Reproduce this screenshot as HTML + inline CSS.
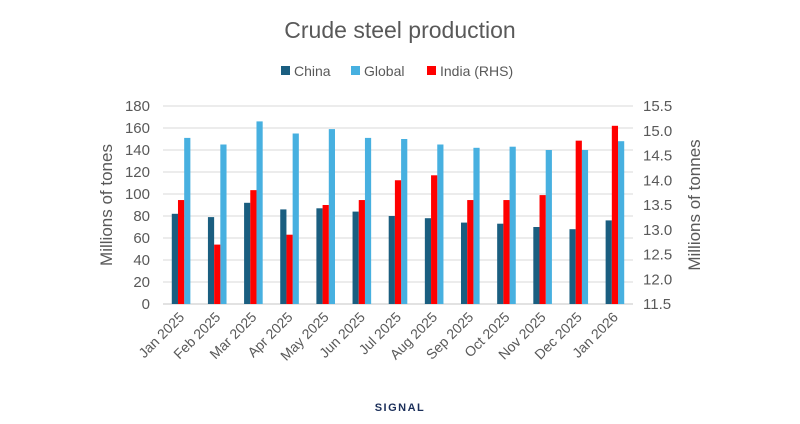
<!DOCTYPE html>
<html><head><meta charset="utf-8"><style>
body{margin:0;background:#fff;width:800px;height:419px;overflow:hidden;font-family:"Liberation Sans",sans-serif}
</style></head><body>
<svg width="800" height="419" id="c">
<text x="400" y="38" text-anchor="middle" font-size="23" fill="#595959">Crude steel production</text>
<g font-size="14" fill="#595959">
<rect x="281" y="66" width="9" height="9" fill="#1a5e80"/>
<text x="294" y="76">China</text>
<rect x="351" y="66" width="9" height="9" fill="#47b0e0"/>
<text x="364" y="76">Global</text>
<rect x="427" y="66" width="9" height="9" fill="#ff0000"/>
<text x="440" y="76">India (RHS)</text>
</g>
<text transform="translate(112,205) rotate(-90)" text-anchor="middle" font-size="17" fill="#595959">Millions of tones</text>
<text transform="translate(700,205) rotate(-90)" text-anchor="middle" font-size="17" fill="#595959">Millions of tonnes</text>
<g id="grid"></g><g id="bars"></g><g id="labels"></g>
<text x="400" y="411" text-anchor="middle" font-size="11" font-weight="bold" fill="#1b2f5a" letter-spacing="1.5">SIGNAL</text>
</svg>
<script>
const categories=["Jan 2025","Feb 2025","Mar 2025","Apr 2025","May 2025","Jun 2025","Jul 2025","Aug 2025","Sep 2025","Oct 2025","Nov 2025","Dec 2025","Jan 2026"];
const china=[82,79,92,86,87,84,80,78,74,73,70,68,76];
const globalVals=[151,145,166,155,159,151,150,145,142,143,140,140,148];
const india=[13.6,12.7,13.8,12.9,13.5,13.6,14.0,14.1,13.6,13.6,13.7,14.8,15.1];
const leftTicks=[0,20,40,60,80,100,120,140,160,180];
const rightTicks=["11.5","12.0","12.5","13.0","13.5","14.0","14.5","15.0","15.5"];
const NS="http://www.w3.org/2000/svg";
const x0=163,x1=633,yb=304,yt=106;
const yL=v=>yb-(v/180)*(yb-yt);
const yR=v=>yb-((v-11.5)/4)*(yb-yt);
const bw=(x1-x0)/categories.length;
function mk(t,a,p){const e=document.createElementNS(NS,t);for(const k in a)e.setAttribute(k,a[k]);p.appendChild(e);return e;}
const g=document.getElementById('grid'),b=document.getElementById('bars'),l=document.getElementById('labels');
leftTicks.forEach(v=>{
 const ln=mk('line',{x1:x0,x2:x1,y1:yL(v),y2:yL(v),stroke:v===0?'#d0d0d0':'#e0e0e0','stroke-width':1.3},g);
 
 
 const t=mk('text',{x:150,y:yL(v)+5,'text-anchor':'end','font-size':15,fill:'#595959'},l);
 t.textContent=v;
 
 
});
rightTicks.forEach(s=>{
 const t=mk('text',{x:643,y:yR(parseFloat(s))+5,'font-size':15,fill:'#595959'},l);
 t.textContent=s;
 
 
});
const w=6.2;
categories.forEach((c,i)=>{
 const cx=x0+bw*(i+0.5);
 let r=mk('rect',{x:cx-1.5*w,y:yL(china[i]),width:w,height:yb-yL(china[i]),fill:'#1a5e80'},b);
 
 
 r=mk('rect',{x:cx+0.5*w,y:yL(globalVals[i]),width:w,height:yb-yL(globalVals[i]),fill:'#47b0e0'},b);
 
 
 r=mk('rect',{x:cx-0.5*w,y:yR(india[i]),width:w,height:yb-yR(india[i]),fill:'#ff0000'},b);
 
 
 const t=mk('text',{transform:`translate(${cx+4},${yb+14}) rotate(-45)`,'text-anchor':'end','font-size':14,fill:'#595959'},l);
 t.textContent=c;
 
 
});
</script>
</body></html>
